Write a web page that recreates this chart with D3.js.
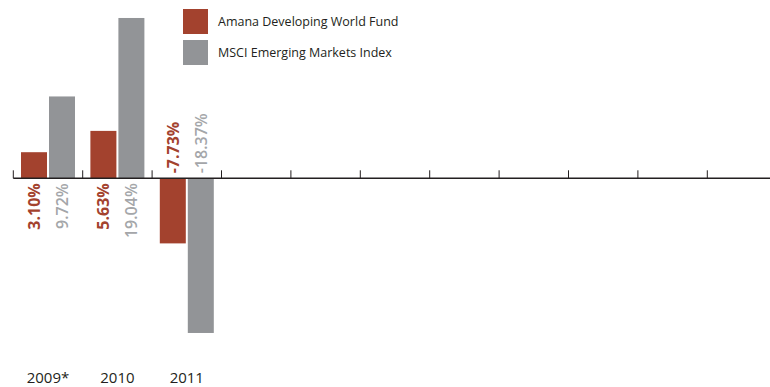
<!DOCTYPE html>
<html>
<head>
<meta charset="utf-8">
<script src="https://cdn.jsdelivr.net/npm/d3@7"></script>
<style>
  html, body { margin: 0; padding: 0; background: #fff; }
  svg { display: block; }
</style>
</head>
<body>
<svg id="chart" width="770" height="387"></svg>
<script>
const years = ["2009*", "2010", "2011"];
const seriesNames = ["Amana Developing World Fund", "MSCI Emerging Markets Index"];
const fundValues = [3.10, 5.63, -7.73];
const indexValues = [9.72, 19.04, -18.37];
const valueLabels = [["3.10%", "5.63%", "-7.73%"], ["9.72%", "19.04%", "-18.37%"]];

const colors = ["#a3422e", "#929497"];
const labelColors = ["#a3422e", "#a4a6a9"];
const textColor = "#231f20";
const slotCount = 11;

const svg = d3.select("#chart");
const fontFamily = "'Open Sans', 'Noto Sans', sans-serif";

const x = d3.scaleBand().domain(d3.range(slotCount)).range([13.3, 13.3 + 69.4 * slotCount]).padding(0);
const xs = d3.scaleBand().domain([0, 1]).range([7.7, 61.7]).paddingInner(2 / 28).paddingOuter(0);
const y = d3.scaleLinear().domain([-20, 20]).range([178.3 + 8.42 * 20, 178.3 - 8.42 * 20]);

const data = years.map((yr, i) => ({
  year: yr, i,
  vals: [fundValues[i], indexValues[i]]
}));

// bars
const groups = svg.selectAll("g.yr").data(data).join("g")
  .attr("class", "yr")
  .attr("transform", d => `translate(${x(d.i)},0)`);

groups.selectAll("rect").data(d => d.vals.map((v, s) => ({ v, s }))).join("rect")
  .attr("x", d => xs(d.s))
  .attr("width", xs.bandwidth())
  .attr("y", d => y(Math.max(0, d.v)))
  .attr("height", d => Math.abs(y(d.v) - y(0)))
  .attr("fill", d => colors[d.s]);

// axis
const axis = svg.append("g");
axis.append("line")
  .attr("x1", x(0)).attr("x2", 770)
  .attr("y1", y(0)).attr("y2", y(0))
  .attr("stroke", textColor).attr("stroke-width", 1.5);
axis.selectAll("line.tick").data(d3.range(slotCount)).join("line")
  .attr("class", "tick")
  .attr("x1", d => x(d)).attr("x2", d => x(d))
  .attr("y1", y(0)).attr("y2", y(0) - 8)
  .attr("stroke", textColor).attr("stroke-width", 1);

// value labels
groups.selectAll("text.val").data(d => d.vals.map((v, s) => ({ v, s, i: d.i }))).join("text")
  .attr("class", "val")
  .attr("transform", d => {
    const cx = xs(d.s) + xs.bandwidth() / 2;
    const ty = d.v >= 0 ? y(0) + 5 : y(0) - 5;
    return `translate(${cx},${ty}) rotate(-90)`;
  })
  .attr("text-anchor", d => d.v >= 0 ? "end" : "start")
  .attr("dy", "0.36em")
  .attr("font-family", fontFamily)
  .attr("font-size", 16)
  .attr("font-weight", d => d.s === 0 ? 700 : 600)
  .attr("fill", d => labelColors[d.s])
  .text(d => valueLabels[d.s][d.i]);

// year labels
svg.selectAll("text.year").data(data).join("text")
  .attr("class", "year")
  .attr("x", d => x(d.i) + x.bandwidth() / 2)
  .attr("y", 383)
  .attr("text-anchor", "middle")
  .attr("font-family", fontFamily)
  .attr("font-size", 15)
  .attr("fill", textColor)
  .text(d => d.year);

// legend
const legend = svg.append("g");
seriesNames.forEach((name, s) => {
  legend.append("rect")
    .attr("x", 183).attr("y", 9 + s * 31)
    .attr("width", 25).attr("height", 25)
    .attr("fill", colors[s]);
  legend.append("text")
    .attr("x", 218).attr("y", 26 + s * 31)
    .attr("font-family", fontFamily)
    .attr("font-size", 12.5)
    .attr("fill", textColor)
    .text(name);
});
</script>
</body>
</html>
